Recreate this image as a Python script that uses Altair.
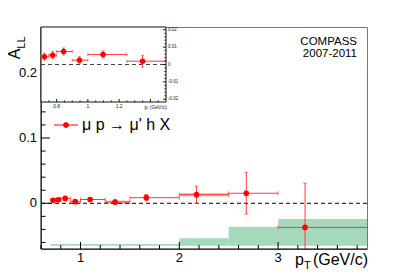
import altair as alt
import pandas as pd

# ---- data ----
bin_lo = [0.70, 0.75, 0.80, 0.90, 1.00, 1.25, 1.50, 2.00, 2.50, 3.00]
bin_hi = [0.75, 0.80, 0.90, 1.00, 1.25, 1.50, 2.00, 2.50, 3.00, 4.00]
pt_mean = [0.722, 0.775, 0.845, 0.946, 1.097, 1.350, 1.666, 2.174, 2.678, 3.273]
a_ll = [0.0045, 0.0054, 0.0075, 0.0025, 0.0058, 0.0019, 0.0086, 0.0132, 0.0154, -0.037]
stat_err = [0.002, 0.002, 0.002, 0.002, 0.002, 0.0034, 0.005, 0.013, 0.032, 0.068]
sys_err = [0.0026, 0.0026, 0.0026, 0.0026, 0.0026, 0.0026, 0.0026, 0.0116, 0.029, 0.041]
sys_base = -0.065
pink_idx = [5, 7]
pink_half = 0.0023

n_inset = 6  # the first six bins are repeated in the inset

x_major = [1, 2, 3]
x_major_lbl = ["1", "2", "3"]
x_minor = [0.6, 0.8, 1.2, 1.4, 1.6, 1.8, 2.2, 2.4, 2.6, 2.8, 3.2, 3.4, 3.6, 3.8]
y_major = [0, 0.1, 0.2]
y_major_lbl = ["0", "0.1", "0.2"]
y_minor = [-0.06, -0.04, -0.02, 0.02, 0.04, 0.06, 0.08, 0.12, 0.14, 0.16, 0.18, 0.22, 0.24, 0.26]

ix_labels = [0.8, 1.0, 1.2]
ix_labels_txt = ["0.8", "1", "1.2"]
ix_major = [0.8, 1.0, 1.2, 1.4]
ix_minor = [0.75, 0.85, 0.9, 0.95, 1.05, 1.1, 1.15, 1.25, 1.3, 1.35, 1.45]
iy_major = [-0.02, -0.01, 0, 0.01, 0.02]
iy_major_lbl = ["-0.02", "-0.01", "0", "0.01", "0.02"]
iy_minor = [-0.018, -0.016, -0.014, -0.012, -0.008, -0.006, -0.004, -0.002,
            0.002, 0.004, 0.006, 0.008, 0.012, 0.014, 0.016, 0.018]

FONT = "Liberation Sans"
RED = "#ff0000"
BAR = "#ff3a3a"
W, H = 326, 222
IW, IH = 125, 75

df = pd.DataFrame({"lo": bin_lo, "hi": bin_hi, "x": pt_mean, "y": a_ll,
                   "err": stat_err, "sys": sys_err})
df["ylo"] = df["y"] - df["err"]
df["yhi"] = df["y"] + df["err"]
df["sb"] = sys_base
df["st"] = sys_base + df["sys"]
pk = df.iloc[pink_idx].copy()
pk["plo"] = pk["y"] - pink_half
pk["phi"] = pk["y"] + pink_half
di = df.iloc[:n_inset].copy()

xs = alt.Scale(domain=[0.6, 3.9], nice=False, zero=False)
ys = alt.Scale(domain=[-0.07, 0.27], nice=False, zero=False)
ixs = alt.Scale(domain=[0.7, 1.5], range=[0, IW], nice=False, zero=False)
iys = alt.Scale(domain=[-0.0216, 0.0216], range=[IH, 0], nice=False, zero=False)


def X(f, s=xs):
    return alt.X(f, scale=s, axis=None, title=None)


def Y(f, s=ys):
    return alt.Y(f, scale=s, axis=None, title=None)


one = pd.DataFrame({"a": [0]})


def txt(s, x, y, size, align="left", baseline="alphabetic", angle=0, color="black"):
    kw = dict(text=s, align=align, baseline=baseline, fontSize=size, font=FONT, color=color)
    if angle:
        kw["angle"] = angle
    return alt.Chart(one).mark_text(**kw).encode(x=alt.value(x), y=alt.value(y))


base = alt.Chart(df)

band = base.mark_rect(fill="#a6d8bb", clip=True).encode(
    x=X("lo:Q"), x2="hi:Q", y=Y("sb:Q"), y2="st:Q")
pink = alt.Chart(pk).mark_rect(fill="#f7a9a9", clip=True).encode(
    x=X("lo:Q"), x2="hi:Q", y=Y("plo:Q"), y2="phi:Q")
zero = alt.Chart(pd.DataFrame({"z": [0]})).mark_rule(
    color="black", strokeDash=[4, 3], strokeWidth=1).encode(y=Y("z:Q"))
xbar = base.mark_rule(color=BAR, strokeWidth=1, clip=True).encode(
    x=X("lo:Q"), x2="hi:Q", y=Y("y:Q"))
ybar = base.mark_rule(color=BAR, strokeWidth=1, clip=True).encode(
    x=X("x:Q"), y=Y("ylo:Q"), y2="yhi:Q")
cap_l = base.mark_tick(color=BAR, orient="vertical", size=4, thickness=1, clip=True).encode(
    x=X("lo:Q"), y=Y("y:Q"))
cap_r = base.mark_tick(color=BAR, orient="vertical", size=4, thickness=1, clip=True).encode(
    x=X("hi:Q"), y=Y("y:Q"))
cap_b = base.mark_tick(color=BAR, orient="horizontal", size=4, thickness=1, clip=True).encode(
    x=X("x:Q"), y=Y("ylo:Q"))
cap_t = base.mark_tick(color=BAR, orient="horizontal", size=4, thickness=1, clip=True).encode(
    x=X("x:Q"), y=Y("yhi:Q"))
pts = base.mark_circle(color=RED, size=32, opacity=1, clip=True).encode(
    x=X("x:Q"), y=Y("y:Q"))

# axis lines, ticks (pointing inwards) and labels
axl = alt.Chart(one).mark_rule(color="black").encode(
    x=alt.value(0), y=alt.value(0), y2=alt.value(H))
axb = alt.Chart(one).mark_rule(color="black").encode(
    x=alt.value(0), x2=alt.value(W), y=alt.value(H))
tx_major = alt.Chart(pd.DataFrame({"t": x_major})).mark_rule(color="black").encode(
    x=X("t:Q"), y=alt.value(H), y2=alt.value(H - 7))
tx_minor = alt.Chart(pd.DataFrame({"t": x_minor})).mark_rule(color="black").encode(
    x=X("t:Q"), y=alt.value(H), y2=alt.value(H - 4))
ty_major = alt.Chart(pd.DataFrame({"t": y_major})).mark_rule(color="black").encode(
    y=Y("t:Q"), x=alt.value(0), x2=alt.value(9))
ty_minor = alt.Chart(pd.DataFrame({"t": y_minor})).mark_rule(color="black").encode(
    y=Y("t:Q"), x=alt.value(0), x2=alt.value(4.5))
lx = alt.Chart(pd.DataFrame({"t": x_major, "s": x_major_lbl})).mark_text(
    fontSize=13, font=FONT, color="black", align="center", baseline="middle").encode(
    x=X("t:Q"), y=alt.value(H + 9), text="s:N")
ly = alt.Chart(pd.DataFrame({"t": y_major, "s": y_major_lbl})).mark_text(
    fontSize=13, font=FONT, color="black", align="right", baseline="middle").encode(
    y=Y("t:Q"), x=alt.value(-4), text="s:N")

leg_line = alt.Chart(one).mark_rule(color=RED, strokeWidth=1).encode(
    x=alt.value(13), x2=alt.value(37), y=alt.value(98))
leg_pt = alt.Chart(one).mark_circle(color=RED, size=32, opacity=1).encode(
    x=alt.value(25), y=alt.value(98))

texts = [
    txt("\u03bc p \u2192 \u03bc' h X", 41, 98, 16, baseline="middle"),
    txt("COMPASS", 316, 14.5, 11.5, align="right", baseline="middle"),
    txt("2007-2011", 316, 26.5, 11.5, align="right", baseline="middle"),
    txt("A", -21, 27, 16, align="center", baseline="alphabetic", angle=270),
    txt("LL", -16, 15.5, 11, align="center", baseline="alphabetic", angle=270),
    txt("p", 254, 238, 16),
    txt("T", 263, 241.5, 11),
    txt("(GeV/c)", 327, 238, 16, align="right"),
]

main = alt.layer(band, pink, zero, xbar, ybar, cap_l, cap_r, cap_b, cap_t, pts,
                 axl, axb, tx_major, tx_minor, ty_major, ty_minor, lx, ly,
                 leg_line, leg_pt, *texts)

# ---- inset ----
frame = alt.Chart(one).mark_rect(fill="white", stroke="#111", strokeWidth=1).encode(
    x=alt.value(0), x2=alt.value(IW), y=alt.value(0), y2=alt.value(IH))
ibase = alt.Chart(di)
izero = alt.Chart(pd.DataFrame({"z": [0]})).mark_rule(
    color="#444", strokeDash=[4, 3], strokeWidth=1).encode(
    y=Y("z:Q", s=iys), x=alt.value(0), x2=alt.value(IW))
ixbar = ibase.mark_rule(color=BAR, strokeWidth=1).encode(
    x=X("lo:Q", s=ixs), x2="hi:Q", y=Y("y:Q", s=iys))
iybar = ibase.mark_rule(color=BAR, strokeWidth=1).encode(
    x=X("x:Q", s=ixs), y=Y("ylo:Q", s=iys), y2="yhi:Q")
icap_l = ibase.mark_tick(color=BAR, orient="vertical", size=3, thickness=1).encode(
    x=X("lo:Q", s=ixs), y=Y("y:Q", s=iys))
icap_r = ibase.mark_tick(color=BAR, orient="vertical", size=3, thickness=1).encode(
    x=X("hi:Q", s=ixs), y=Y("y:Q", s=iys))
icap_b = ibase.mark_tick(color=BAR, orient="horizontal", size=3, thickness=1).encode(
    x=X("x:Q", s=ixs), y=Y("ylo:Q", s=iys))
icap_t = ibase.mark_tick(color=BAR, orient="horizontal", size=3, thickness=1).encode(
    x=X("x:Q", s=ixs), y=Y("yhi:Q", s=iys))
ipts = ibase.mark_circle(color=RED, size=30, opacity=1).encode(
    x=X("x:Q", s=ixs), y=Y("y:Q", s=iys))
itx_major = alt.Chart(pd.DataFrame({"t": ix_major})).mark_rule(color="#111").encode(
    x=X("t:Q", s=ixs), y=alt.value(IH), y2=alt.value(IH - 3))
itx_minor = alt.Chart(pd.DataFrame({"t": ix_minor})).mark_rule(color="#111").encode(
    x=X("t:Q", s=ixs), y=alt.value(IH), y2=alt.value(IH - 1.5))
ity_major = alt.Chart(pd.DataFrame({"t": iy_major})).mark_rule(color="#111").encode(
    y=Y("t:Q", s=iys), x=alt.value(IW), x2=alt.value(IW - 3))
ity_minor = alt.Chart(pd.DataFrame({"t": iy_minor})).mark_rule(color="#111").encode(
    y=Y("t:Q", s=iys), x=alt.value(IW), x2=alt.value(IW - 1.5))
ilx = alt.Chart(pd.DataFrame({"t": ix_labels, "s": ix_labels_txt})).mark_text(
    fontSize=5, font=FONT, color="#222", align="center", baseline="middle").encode(
    x=X("t:Q", s=ixs), y=alt.value(IH + 4), text="s:N")
ily = alt.Chart(pd.DataFrame({"t": iy_major, "s": iy_major_lbl})).mark_text(
    fontSize=4.5, font=FONT, color="#222", align="left", baseline="middle").encode(
    y=Y("t:Q", s=iys), x=alt.value(IW + 2), text="s:N")
ititle = txt("p\u209c (GeV/c)", 126, 80, 5, align="right", baseline="middle", color="#222")

inset = alt.layer(frame, izero, ixbar, iybar, icap_l, icap_r, icap_b, icap_t, ipts,
                  itx_major, itx_minor, ity_major, ity_minor, ilx, ily, ititle)

chart = alt.layer(main, inset).resolve_scale(
    x="independent", y="independent"
).properties(
    width=W, height=H,
    autosize=alt.AutoSizeParams(type="none"),
    padding={"left": 33, "top": 19, "right": 34, "bottom": 21},
    background="white",
).configure_view(stroke="#777", strokeWidth=1)

chart.save("out.html", embed_options={"renderer": "svg", "actions": False})
